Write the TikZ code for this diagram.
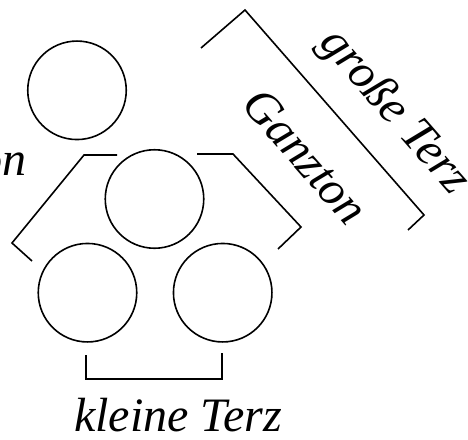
\documentclass[tikz,border=0pt]{standalone}
\usepackage{fontspec}
\setmainfont{Liberation Serif}
\begin{document}
\begin{tikzpicture}[x=1pt,y=-1pt,
  ln/.style={line width=1.6pt},
  circ/.style={circle,draw,line width=1.6pt,minimum size=98.5pt,inner sep=0pt},
  lab/.style={font=\fontsize{48}{56}\selectfont\itshape,inner sep=0pt}]
\useasboundingbox (0,0) rectangle (468,439);
\clip (0,0) rectangle (468,439);
% circles
\node[circ] (c1) at (77,90.3) {};
\node[circ] (c2) at (154.5,199) {};
\node[circ] (c3) at (87.5,292.7) {};
\node[circ] (c4) at (222.7,292.7) {};
% brackets
\draw[ln] (86,355) -- (86,379) -- (222,379) -- (222,353);
\draw[ln] (117,155) -- (84,155) -- (12,243) -- (32,261);
\draw[ln] (197,154) -- (233,154) -- (301,227) -- (278,249);
\draw[ln] (201,48) -- (245,10) -- (424,215) -- (408,230);
% labels
\node[lab,anchor=base,text depth=0pt] (kt) at (178,431.7) {kleine Terz};
\node[lab,anchor=base east] (gl) at (26.5,175) {Ganzton};
\node[lab,anchor=base,rotate=-48.9] (gt) at (385,120) {große Terz};
\node[lab,anchor=base,rotate=-48.9] (gz) at (294,166.4) {Ganzton};
\end{tikzpicture}
\end{document}
